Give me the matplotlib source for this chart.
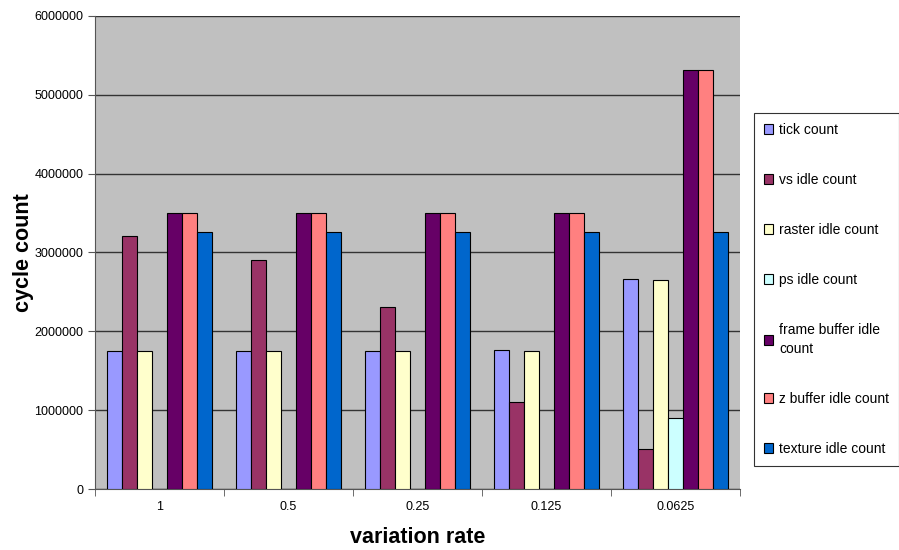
import numpy as np
import matplotlib
matplotlib.use('Agg')
import matplotlib.pyplot as plt
from matplotlib.ticker import FixedLocator

matplotlib.rcParams['font.family'] = ['Liberation Sans', 'DejaVu Sans']

rates = ['1', '0.5', '0.25', '0.125', '0.0625']
series_names = ['tick count', 'vs idle count', 'raster idle count',
                'ps idle count', 'frame buffer idle\ncount',
                'z buffer idle count', 'texture idle count']
tick_count = [1750000, 1750000, 1750000, 1760000, 2660000]
vs_idle = [3210000, 2900000, 2310000, 1100000, 510000]
raster_idle = [1750000, 1750000, 1750000, 1750000, 2650000]
ps_idle = [0, 0, 0, 0, 900000]
frame_buffer_idle = [3500000, 3500000, 3500000, 3500000, 5320000]
z_buffer_idle = [3500000, 3500000, 3500000, 3500000, 5320000]
texture_idle = [3260000, 3260000, 3260000, 3260000, 3260000]

COLORS = ['#9999FF', '#993366', '#FFFFCC', '#CCFFFF',
          '#660066', '#FF8080', '#0066CC']

all_series = [tick_count, vs_idle, raster_idle, ps_idle,
              frame_buffer_idle, z_buffer_idle, texture_idle]

fig = plt.figure(figsize=(8.99, 5.50), dpi=100)
ax = fig.add_axes([95 / 899, 1 - 489 / 550, 645 / 899, 473 / 550])
ax.set_facecolor('#C0C0C0')

x = np.arange(len(rates))
width = 0.116
n = len(all_series)
handles = []
for i, (vals, col) in enumerate(zip(all_series, COLORS)):
    offs = (i - (n - 1) / 2) * width
    b = ax.bar(x + offs, vals, width, color=col, edgecolor='black',
               linewidth=0.8, zorder=3)
    handles.append(b)

ax.set_xlim(-0.5, len(rates) - 0.5)
ax.set_ylim(0, 6000000)
ax.set_yticks(np.arange(0, 6000001, 1000000))
ax.set_yticklabels([str(v) for v in range(0, 6000001, 1000000)])
ax.yaxis.grid(True, color='#333333', linewidth=1, zorder=0)
ax.set_axisbelow(True)

ax.set_xticks(x)
ax.set_xticklabels(rates)
ax.tick_params(axis='x', length=0, labelsize=9, pad=9)
ax.xaxis.set_minor_locator(FixedLocator(np.arange(-0.5, len(rates), 1)))
ax.tick_params(axis='x', which='minor', length=5, direction='out',
               color='#555555')
ax.tick_params(axis='y', length=5, direction='out', labelsize=9,
               color='#555555')

for side in ['top', 'right']:
    ax.spines[side].set_visible(False)
ax.spines['left'].set_color('#555555')
ax.spines['bottom'].set_color('#555555')

ax.set_xlabel('variation rate', fontsize=15.5, fontweight='bold', labelpad=10)
ax.set_ylabel('cycle count', fontsize=15.5, fontweight='bold', labelpad=0)

leg = fig.legend(handles, series_names, loc='upper left',
                 bbox_to_anchor=(754 / 899, 1 - 113 / 550),
                 fontsize=10, frameon=True, fancybox=False,
                 labelspacing=2.6, handlelength=0.7, handleheight=0.7,
                 handletextpad=0.4, borderpad=0.7, borderaxespad=0)
leg.get_frame().set_edgecolor('black')
leg.get_frame().set_linewidth(0.8)
leg.get_texts()[4].set_linespacing(1.4)

fig.savefig('out.png', dpi=100)
